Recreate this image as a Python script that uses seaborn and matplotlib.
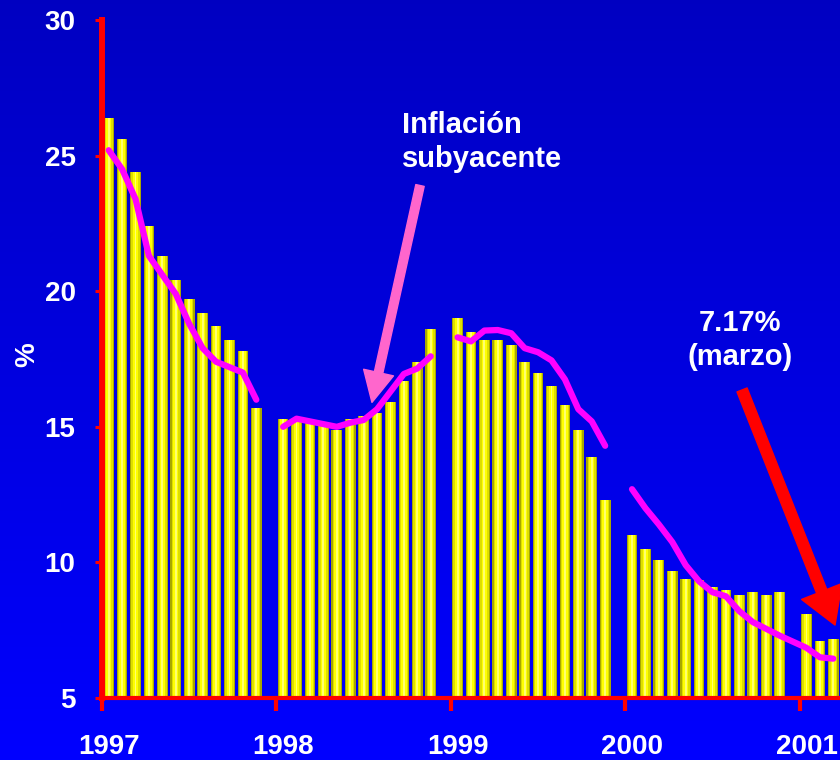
import numpy as np
import pandas as pd
import seaborn as sns
import matplotlib.pyplot as plt

# Data: monthly annual inflation (bars) and core inflation (line), 1997 - Mar 2001
years = ['1997', '1998', '1999', '2000', '2001']
inflacion = {
    '1997': [26.4, 25.6, 24.4, 22.4, 21.3, 20.4, 19.7, 19.2, 18.7, 18.2, 17.8, 15.7],
    '1998': [15.3, 15.3, 15.2, 15.1, 14.9, 15.3, 15.4, 15.5, 15.9, 16.7, 17.4, 18.6],
    '1999': [19.0, 18.5, 18.2, 18.2, 18.0, 17.4, 17.0, 16.5, 15.8, 14.9, 13.9, 12.3],
    '2000': [11.0, 10.5, 10.1, 9.7, 9.4, 9.35, 9.1, 9.0, 8.8, 8.9, 8.8, 8.9],
    '2001': [8.1, 7.1, 7.17],
}
subyacente = {
    '1997': [25.2, 24.5, 23.4, 21.3, 20.6, 19.9, 18.8, 17.9, 17.4, 17.2, 17.0, 16.0],
    '1998': [15.0, 15.3, 15.2, 15.1, 15.0, 15.15, 15.25, 15.65, 16.3, 16.95, 17.15, 17.6],
    '1999': [18.3, 18.15, 18.55, 18.57, 18.45, 17.9, 17.75, 17.45, 16.75, 15.65, 15.2, 14.3],
    '2000': [12.7, 12.0, 11.4, 10.75, 9.9, 9.3, 8.9, 8.75, 8.2, 7.8, 7.55, 7.3],
    '2001': [6.85, 6.5, 6.45],
}
# line segments (2000 and 2001 are drawn as one continuous line)
segmento = {'1997': 0, '1998': 1, '1999': 2, '2000': 3, '2001': 3}

slots = 13  # 12 months + 1 empty slot per year
bar_rows, line_rows = [], []
for k, yr in enumerate(years):
    for m, v in enumerate(inflacion[yr]):
        bar_rows.append({'pos': k * slots + m + 0.5, 'val': v})
    for m, v in enumerate(subyacente[yr]):
        line_rows.append({'pos': k * slots + m + 0.5, 'val': v, 'seg': segmento[yr]})
bars = pd.DataFrame(bar_rows)
linea = pd.DataFrame(line_rows)

sns.set_style('white')
plt.rcParams['font.family'] = ['Liberation Sans', 'DejaVu Sans']
plt.rcParams['font.weight'] = 'bold'

fig = plt.figure(figsize=(8.4, 7.6), dpi=100)

# blue gradient background
bg = fig.add_axes([0, 0, 1, 1], zorder=-1)
grad = np.linspace(0, 1, 256).reshape(-1, 1)
top_c = np.array([0.0, 0.0, 0.76])
bot_c = np.array([0.0, 0.0, 1.0])
img = top_c + grad[..., None] * (bot_c - top_c)
bg.imshow(img, aspect='auto', extent=[0, 1, 0, 1])
bg.axis('off')

ax = fig.add_axes([0.1214, 0.0816, 0.8786, 0.892])
ax.set_facecolor('none')

# cylinder-like yellow bars
for w, c in [(0.8, '#a8a800'), (0.62, '#dede00'), (0.4, '#ffff00'), (0.14, '#ffff70')]:
    sns.barplot(data=bars, x='pos', y='val', native_scale=True, width=w,
                color=c, saturation=1, linewidth=0, errorbar=None, ax=ax)

sns.lineplot(data=linea, x='pos', y='val', units='seg', estimator=None,
             color='#ff00ff', linewidth=4.5, ax=ax, legend=False, zorder=5)

ax.set_xlim(0, 55)
ax.set_ylim(5, 30)

# axes styling
for s in ['top', 'right']:
    ax.spines[s].set_visible(False)
ax.spines['left'].set_color('red')
ax.spines['left'].set_linewidth(4.3)
ax.spines['bottom'].set_color('red')
ax.spines['bottom'].set_linewidth(3.0)
for s in ['left', 'bottom']:
    ax.spines[s].set_zorder(6)

ax.set_yticks([5, 10, 15, 20, 25, 30])
ax.set_yticklabels(['5', '10', '15', '20', '25', '30'])
ax.tick_params(axis='y', colors='red', length=5, width=2.2, pad=14,
               labelcolor='white', labelsize=20, left=True)

ax.set_xticks([k * slots for k in range(len(years))])
ax.set_xticklabels([])
ax.tick_params(axis='x', which='major', colors='red', length=9, width=3, bottom=True)
ax.set_xticks([k * slots + 0.5 for k in range(len(years))], minor=True)
ax.set_xticklabels(years, minor=True)
ax.tick_params(axis='x', which='minor', length=0, pad=26,
               labelcolor='white', labelsize=20, bottom=True)
for lbl in ax.get_xticklabels(minor=True) + ax.get_yticklabels():
    lbl.set_fontweight('bold')

ax.set_xlabel('')
ax.set_ylabel('%', color='white', fontsize=20, fontweight='bold')
ax.yaxis.set_label_coords(-0.083, 0.506)

# annotations
ax.text(22.36, 25.5, 'Inflación\nsubyacente', color='white', fontsize=21,
        fontweight='bold', ha='left', va='center', linespacing=1.25)
ax.annotate('', xy=(20.12, 15.9), xytext=(23.7, 23.9),
            arrowprops=dict(arrowstyle='simple,head_length=1.0,head_width=1.0,tail_width=0.28',
                            color='#ff66cc', mutation_scale=22, shrinkA=0, shrinkB=0),
            zorder=7)
ax.text(47.55, 18.2, '7.17%\n(marzo)', color='white', fontsize=21,
        fontweight='bold', ha='center', va='center', linespacing=1.25)
ax.annotate('', xy=(54.63, 7.69), xytext=(47.7, 16.36),
            arrowprops=dict(arrowstyle='simple,head_length=1.0,head_width=1.2,tail_width=0.3',
                            color='red', mutation_scale=26, shrinkA=0, shrinkB=0),
            zorder=7, annotation_clip=False)

fig.savefig('out.png', dpi=100)
